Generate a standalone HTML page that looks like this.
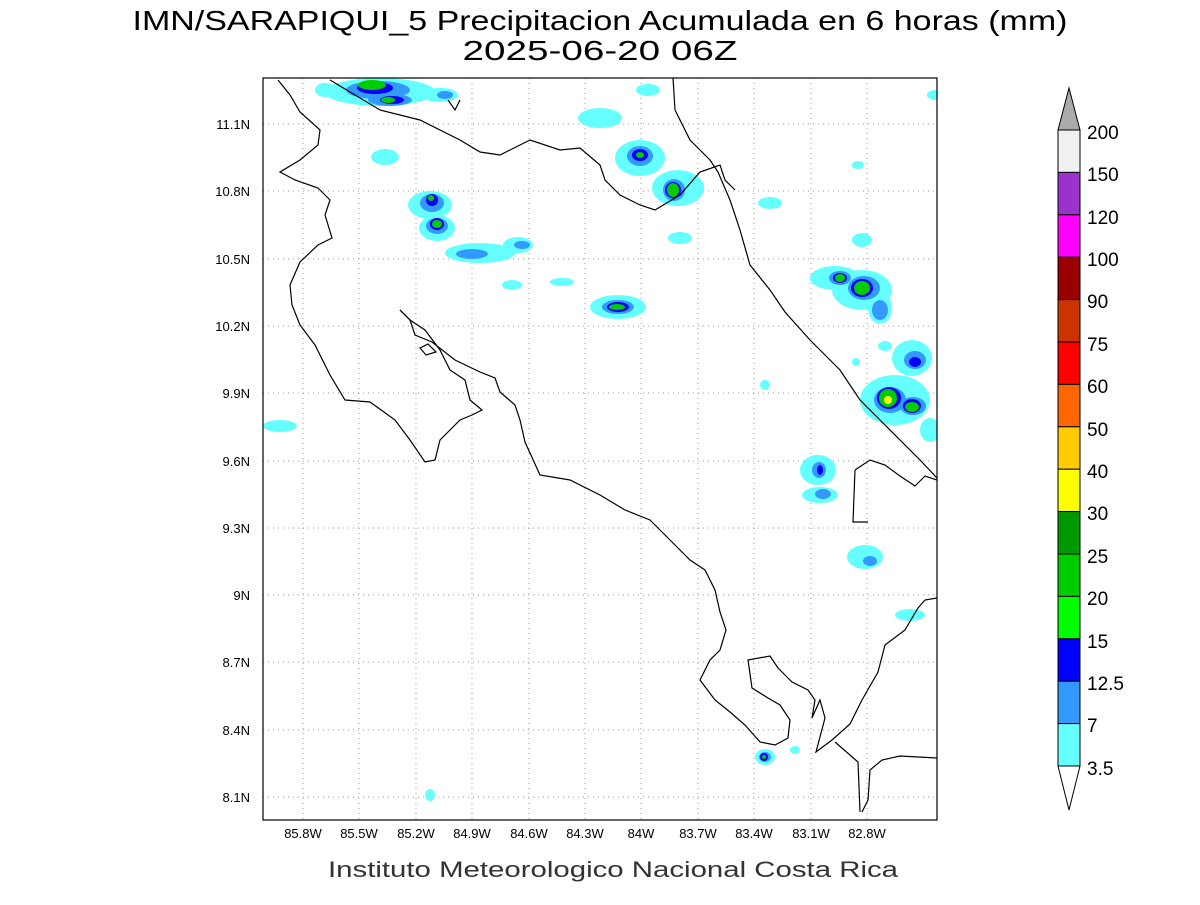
<!DOCTYPE html>
<html><head><meta charset="utf-8"><style>
body{margin:0;background:#fff;}
svg text{font-family:"Liberation Sans",sans-serif;}
</style></head><body>
<svg width="1200" height="900" viewBox="0 0 1200 900" xmlns="http://www.w3.org/2000/svg">
<rect width="1200" height="900" fill="#fff"/>
<text x="600" y="30" font-size="28" text-anchor="middle" fill="#000" textLength="935" lengthAdjust="spacingAndGlyphs">IMN/SARAPIQUI_5 Precipitacion Acumulada en 6 horas (mm)</text>
<text x="600" y="60" font-size="28" text-anchor="middle" fill="#000" textLength="275" lengthAdjust="spacingAndGlyphs">2025-06-20 06Z</text>
<defs><clipPath id="c"><rect x="263" y="78" width="674" height="742"/></clipPath></defs>
<g clip-path="url(#c)">
<g stroke="#999" stroke-width="1" stroke-dasharray="1,4">
<line x1="303" y1="78" x2="303" y2="820"/><line x1="359" y1="78" x2="359" y2="820"/><line x1="416" y1="78" x2="416" y2="820"/><line x1="472" y1="78" x2="472" y2="820"/><line x1="529" y1="78" x2="529" y2="820"/><line x1="585" y1="78" x2="585" y2="820"/><line x1="641" y1="78" x2="641" y2="820"/><line x1="698" y1="78" x2="698" y2="820"/><line x1="754" y1="78" x2="754" y2="820"/><line x1="811" y1="78" x2="811" y2="820"/><line x1="867" y1="78" x2="867" y2="820"/>
<line x1="263" y1="124" x2="937" y2="124"/><line x1="263" y1="191" x2="937" y2="191"/><line x1="263" y1="259" x2="937" y2="259"/><line x1="263" y1="326" x2="937" y2="326"/><line x1="263" y1="393" x2="937" y2="393"/><line x1="263" y1="461" x2="937" y2="461"/><line x1="263" y1="528" x2="937" y2="528"/><line x1="263" y1="595" x2="937" y2="595"/><line x1="263" y1="662" x2="937" y2="662"/><line x1="263" y1="730" x2="937" y2="730"/><line x1="263" y1="797" x2="937" y2="797"/>
</g>
<g fill="#66ffff">
<ellipse cx="380" cy="92" rx="55" ry="14"/><ellipse cx="325" cy="90" rx="10" ry="7"/><ellipse cx="440" cy="95" rx="18" ry="7"/>
<ellipse cx="385" cy="157" rx="14" ry="8"/><ellipse cx="430" cy="205" rx="22" ry="14"/><ellipse cx="437" cy="228" rx="18" ry="13"/>
<ellipse cx="480" cy="253" rx="35" ry="10"/><ellipse cx="518" cy="245" rx="15" ry="8"/><ellipse cx="512" cy="285" rx="10" ry="5"/><ellipse cx="562" cy="282" rx="12" ry="4"/>
<ellipse cx="618" cy="307" rx="28" ry="12"/><ellipse cx="600" cy="118" rx="22" ry="10"/><ellipse cx="648" cy="90" rx="12" ry="6"/>
<ellipse cx="640" cy="158" rx="25" ry="18"/><ellipse cx="678" cy="188" rx="26" ry="18"/><ellipse cx="680" cy="238" rx="12" ry="6"/><ellipse cx="770" cy="203" rx="12" ry="6"/>
<ellipse cx="835" cy="278" rx="25" ry="12"/><ellipse cx="862" cy="290" rx="30" ry="20"/><ellipse cx="880" cy="308" rx="12" ry="16"/><ellipse cx="862" cy="240" rx="10" ry="7"/><ellipse cx="858" cy="165" rx="6" ry="4"/>
<ellipse cx="912" cy="358" rx="20" ry="18"/><ellipse cx="895" cy="400" rx="35" ry="25"/><ellipse cx="930" cy="430" rx="10" ry="12"/>
<ellipse cx="818" cy="470" rx="18" ry="15"/><ellipse cx="820" cy="495" rx="18" ry="8"/><ellipse cx="865" cy="557" rx="18" ry="12"/><ellipse cx="910" cy="615" rx="15" ry="6"/>
<ellipse cx="765" cy="757" rx="10" ry="8"/><ellipse cx="430" cy="795" rx="5" ry="6"/><ellipse cx="280" cy="426" rx="17" ry="6"/><ellipse cx="765" cy="385" rx="5" ry="5"/><ellipse cx="795" cy="750" rx="5" ry="4"/><ellipse cx="935" cy="95" rx="8" ry="5"/><ellipse cx="856" cy="362" rx="4" ry="4"/><ellipse cx="885" cy="346" rx="7" ry="5"/>
</g>
<g fill="#3399ff">
<ellipse cx="378" cy="90" rx="32" ry="9"/><ellipse cx="390" cy="100" rx="22" ry="6"/><ellipse cx="445" cy="95" rx="8" ry="4"/>
<ellipse cx="432" cy="203" rx="12" ry="9"/><ellipse cx="437" cy="226" rx="11" ry="8"/><ellipse cx="472" cy="254" rx="16" ry="5"/><ellipse cx="522" cy="245" rx="8" ry="4"/>
<ellipse cx="618" cy="307" rx="16" ry="7"/><ellipse cx="640" cy="156" rx="13" ry="10"/><ellipse cx="674" cy="190" rx="11" ry="11"/>
<ellipse cx="840" cy="278" rx="11" ry="7"/><ellipse cx="864" cy="288" rx="16" ry="12"/><ellipse cx="880" cy="310" rx="8" ry="10"/>
<ellipse cx="915" cy="360" rx="11" ry="9"/><ellipse cx="890" cy="400" rx="16" ry="13"/><ellipse cx="913" cy="406" rx="13" ry="9"/>
<ellipse cx="819" cy="470" rx="7" ry="8"/><ellipse cx="823" cy="494" rx="8" ry="5"/><ellipse cx="870" cy="561" rx="7" ry="5"/><ellipse cx="765" cy="757" rx="6" ry="5"/>
</g>
<g fill="#0000ff">
<ellipse cx="375" cy="88" rx="18" ry="6"/><ellipse cx="392" cy="100" rx="12" ry="4"/><ellipse cx="432" cy="200" rx="6" ry="6"/><ellipse cx="437" cy="224" rx="7" ry="6"/>
<ellipse cx="618" cy="307" rx="11" ry="5"/><ellipse cx="640" cy="155" rx="8" ry="6"/><ellipse cx="673" cy="190" rx="8" ry="8"/><ellipse cx="840" cy="278" rx="7" ry="5"/><ellipse cx="862" cy="288" rx="11" ry="9"/>
<ellipse cx="889" cy="398" rx="12" ry="11"/><ellipse cx="912" cy="406" rx="9" ry="7"/><ellipse cx="915" cy="362" rx="6" ry="5"/><ellipse cx="820" cy="470" rx="3" ry="5"/><ellipse cx="764" cy="757" rx="4" ry="4"/>
</g>
<g fill="#00cc00">
<ellipse cx="372" cy="85" rx="14" ry="5"/><ellipse cx="388" cy="100" rx="7" ry="3"/><ellipse cx="437" cy="224" rx="5" ry="4"/><ellipse cx="431" cy="198" rx="3" ry="3"/>
<ellipse cx="617" cy="307" rx="8" ry="3"/><ellipse cx="640" cy="155" rx="4" ry="3"/><ellipse cx="673" cy="190" rx="6" ry="7"/><ellipse cx="840" cy="278" rx="5" ry="4"/><ellipse cx="862" cy="288" rx="8" ry="7"/>
<ellipse cx="888" cy="398" rx="9" ry="9"/><ellipse cx="912" cy="407" rx="7" ry="5"/><ellipse cx="764" cy="757" rx="2" ry="2"/>
</g>
<ellipse cx="888" cy="400" rx="4" ry="4" fill="#ffff00"/>
<g fill="none" stroke="#000" stroke-width="1.2">
<polyline points="278,80 290,95 300,112 320,130 318,145 300,160 280,172 295,180 318,188 330,200 325,215 332,238 318,245 300,262 290,285 292,305 300,325 315,345 330,375 345,400 370,402 395,420 410,440 425,462 435,460 440,440 460,420 472,415 482,410 470,400 465,380 450,370 440,350 425,330 410,320 400,310"/>
<polyline points="400,310 410,320 415,335 432,342 455,360 480,372 495,378 500,392 515,405 520,420 525,442 540,475 570,480 600,495 625,510 650,520 670,540 690,560 705,570 715,590 720,612 726,630 720,650 710,660 700,680 715,700 730,712 745,725 760,742 775,745 788,738 790,720 780,705 768,698 752,688 748,660 770,656 778,668 792,682 808,690 815,700 812,718 820,700 825,718 816,752 832,740 850,724 862,700 878,672 885,645 905,630 918,608 925,600 937,598"/>
<polyline points="835,742 858,762 860,812"/>
<polyline points="862,812 868,800 870,770 882,760 900,756 937,758"/>
<polyline points="330,80 380,110 420,120 460,140 480,152 500,155 530,140 560,150 580,148 600,165 605,180 620,195 640,205 655,210 680,195 700,172 720,165 725,180 735,190"/>
<polyline points="673,78 675,110 690,140 710,160 718,172 730,200 740,230 750,265 770,290 785,312 810,340 840,370 860,400 880,420 900,440 920,460 937,478"/>
<polyline points="855,470 870,460 885,465 900,476 915,486 925,476 937,480"/>
<polyline points="855,470 853,522 868,522"/>
<polyline points="448,100 455,110 460,100"/>
<polygon points="420,348 428,344 436,352 426,355"/>
</g>
</g>
<rect x="263" y="78" width="674" height="742" fill="none" stroke="#000" stroke-width="1.2"/>
<g font-size="13" fill="#000" text-anchor="end">
<text x="250" y="129">11.1N</text><text x="250" y="196">10.8N</text><text x="250" y="264">10.5N</text><text x="250" y="331">10.2N</text><text x="250" y="398">9.9N</text><text x="250" y="466">9.6N</text><text x="250" y="533">9.3N</text><text x="250" y="600">9N</text><text x="250" y="667">8.7N</text><text x="250" y="735">8.4N</text><text x="250" y="802">8.1N</text>
</g>
<g font-size="13" fill="#000" text-anchor="middle">
<text x="303" y="838">85.8W</text><text x="359" y="838">85.5W</text><text x="416" y="838">85.2W</text><text x="472" y="838">84.9W</text><text x="529" y="838">84.6W</text><text x="585" y="838">84.3W</text><text x="641" y="838">84W</text><text x="698" y="838">83.7W</text><text x="754" y="838">83.4W</text><text x="811" y="838">83.1W</text><text x="867" y="838">82.8W</text>
</g>
<text x="613" y="877" font-size="22" text-anchor="middle" fill="#333" textLength="570" lengthAdjust="spacingAndGlyphs">Instituto Meteorologico Nacional Costa Rica</text>
<g stroke="#000" stroke-width="1">
<polygon points="1058,130 1080,130 1069,88" fill="#aaaaaa"/>
<rect x="1058" y="130" width="22" height="42.4" fill="#f0f0f0"/>
<rect x="1058" y="172.4" width="22" height="42.4" fill="#9933cc"/>
<rect x="1058" y="214.8" width="22" height="42.4" fill="#ff00ff"/>
<rect x="1058" y="257.2" width="22" height="42.4" fill="#990000"/>
<rect x="1058" y="299.6" width="22" height="42.4" fill="#cc3300"/>
<rect x="1058" y="342" width="22" height="42.4" fill="#ff0000"/>
<rect x="1058" y="384.4" width="22" height="42.4" fill="#ff6600"/>
<rect x="1058" y="426.8" width="22" height="42.4" fill="#ffcc00"/>
<rect x="1058" y="469.2" width="22" height="42.4" fill="#ffff00"/>
<rect x="1058" y="511.6" width="22" height="42.4" fill="#009900"/>
<rect x="1058" y="554" width="22" height="42.4" fill="#00cc00"/>
<rect x="1058" y="596.4" width="22" height="42.4" fill="#00ff00"/>
<rect x="1058" y="638.8" width="22" height="42.4" fill="#0000ff"/>
<rect x="1058" y="681.2" width="22" height="42.4" fill="#3399ff"/>
<rect x="1058" y="723.6" width="22" height="42.4" fill="#66ffff"/>
<polygon points="1058,766 1080,766 1069,810" fill="#fff"/>
</g>
<g font-size="19" fill="#000">
<text x="1087" y="139">200</text><text x="1087" y="181">150</text><text x="1087" y="224">120</text><text x="1087" y="266">100</text><text x="1087" y="308">90</text><text x="1087" y="351">75</text><text x="1087" y="393">60</text><text x="1087" y="436">50</text><text x="1087" y="478">40</text><text x="1087" y="520">30</text><text x="1087" y="563">25</text><text x="1087" y="605">20</text><text x="1087" y="648">15</text><text x="1087" y="690">12.5</text><text x="1087" y="732">7</text><text x="1087" y="775">3.5</text>
</g>
</svg>
</body></html>
